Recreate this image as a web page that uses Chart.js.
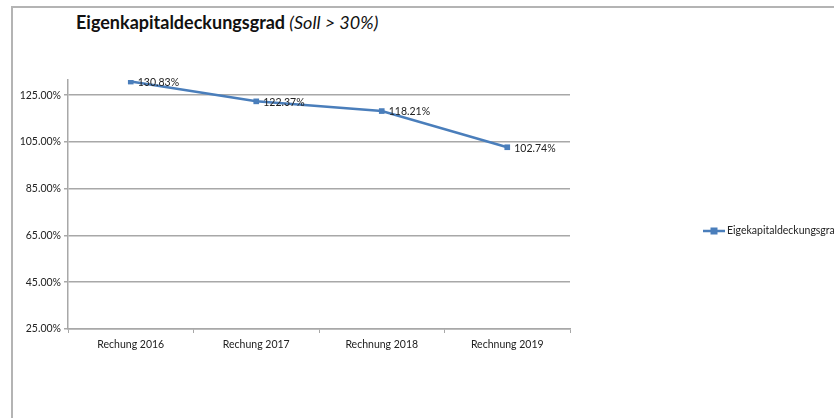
<!DOCTYPE html>
<html>
<head>
<meta charset="utf-8">
<script src="https://cdn.jsdelivr.net/npm/chart.js@4.4.1/dist/chart.umd.min.js"></script>
<style>
  body { margin: 0; background: #fff; }
  .wrap { position: relative; width: 834px; height: 418px; overflow: hidden; }
  .frame { position: absolute; left: 11px; top: 6px; right: -4px; bottom: -4px; border-top: 2px solid #b4b4b4; border-left: 2px solid #b4b4b4; }
  .title { position: absolute; left: 76px; top: 11px; font-family: Lato, "Open Sans", sans-serif; font-size: 18px; color: #111; white-space: nowrap; }
  .title b { font-weight: 700; }
  .title i { font-weight: 400; font-style: italic; }
  canvas { position: absolute; left: 0; top: 0; }
</style>
</head>
<body>
<div class="wrap">
  <div class="frame"></div>
  <div class="title"><b>Eigenkapitaldeckungsgrad</b><i> (Soll &gt; 30%)</i></div>
  <canvas id="chart" width="834" height="418"></canvas>
</div>
<script>
// chart data
const categories = ["Rechung 2016", "Rechung 2017", "Rechnung 2018", "Rechnung 2019"];
const values = [130.83, 122.37, 118.21, 102.74];
const yTicks = [25, 45, 65, 85, 105, 125];
const seriesName = "Eigekapitaldeckungsgrad";

const lineColor = "#4a7ebb";
const gridColor = "#a8a8a8";
const font = "Lato, 'Open Sans', sans-serif";

// value labels next to each point
const valueLabels = {
  id: "valueLabels",
  afterDatasetsDraw(chart) {
    const ctx = chart.ctx;
    const meta = chart.getDatasetMeta(0);
    ctx.save();
    ctx.font = "10.5px " + font;
    ctx.fillStyle = "#222";
    ctx.textBaseline = "middle";
    meta.data.forEach((pt, i) => {
      ctx.fillText(values[i].toFixed(2) + "%", pt.x + 7, pt.y + 1);
    });
    ctx.restore();
  },
};

// legend on the right, like the spreadsheet one
const sideLegend = {
  id: "sideLegend",
  afterDraw(chart) {
    const ctx = chart.ctx;
    const x = 703, y = 231;
    ctx.save();
    ctx.strokeStyle = lineColor;
    ctx.lineWidth = 2.5;
    ctx.beginPath();
    ctx.moveTo(x, y);
    ctx.lineTo(x + 22, y);
    ctx.stroke();
    ctx.fillStyle = lineColor;
    ctx.fillRect(x + 7.5, y - 3.5, 7, 7);
    ctx.font = "10.5px " + font;
    ctx.fillStyle = "#222";
    ctx.textBaseline = "middle";
    ctx.fillText(chart.data.datasets[0].label, x + 24, y);
    ctx.restore();
  },
};

new Chart(document.getElementById("chart"), {
  type: "line",
  data: {
    labels: categories,
    datasets: [
      {
        label: seriesName,
        data: values,
        borderColor: lineColor,
        backgroundColor: lineColor,
        borderWidth: 2.5,
        pointStyle: "rect",
        pointRadius: 4,
        pointBackgroundColor: lineColor,
        pointBorderWidth: 0,
        tension: 0,
      },
    ],
  },
  options: {
    responsive: false,
    animation: false,
    layout: { padding: { left: 0, top: 80, right: 264, bottom: 0 } },
    scales: {
      x: {
        offset: true,
        grid: {
          offset: true,
          drawOnChartArea: false,
          drawTicks: true,
          tickLength: 4,
          color: gridColor,
        },
        border: { color: gridColor, width: 1.5 },
        ticks: { padding: 5, color: "#222", font: { family: font, size: 10.5 }, maxRotation: 0 },
        afterFit(scale) { scale.height = 89; },
      },
      y: {
        min: 25,
        max: 131.5,
        afterBuildTicks(scale) { scale.ticks = yTicks.map((v) => ({ value: v })); },
        grid: { color: gridColor, lineWidth: 1.5, tickLength: 4 },
        border: { color: gridColor, width: 1.5 },
        ticks: {
          padding: 3,
          color: "#222",
          font: { family: font, size: 10.5 },
          callback: (v) => v.toFixed(2) + "%",
        },
        afterFit(scale) { scale.width = 68; },
      },
    },
    plugins: {
      legend: { display: false },
      tooltip: { enabled: false },
    },
  },
  plugins: [valueLabels, sideLegend],
});
</script>
</body>
</html>
